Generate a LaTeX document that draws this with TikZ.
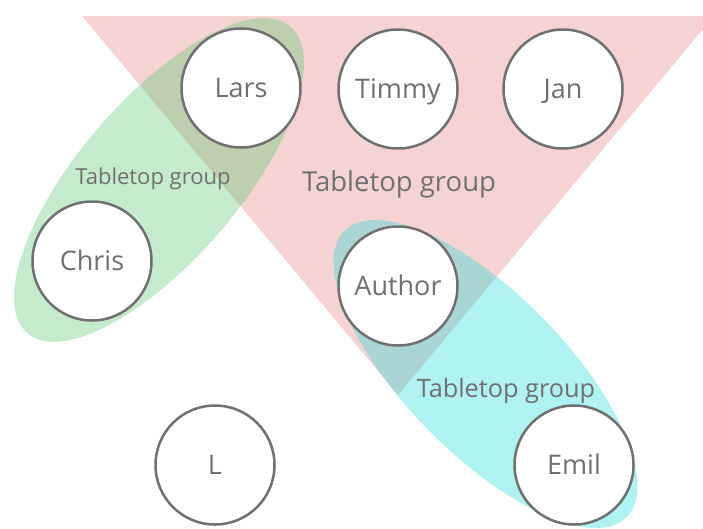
\documentclass[tikz,border=0pt]{standalone}
\usepackage{fontspec}
\setmainfont{Open Sans}
\definecolor{inkgray}{RGB}{112,112,112}
\definecolor{grpred}{RGB}{229,129,129}
\definecolor{grpgreen}{RGB}{86,201,109}
\definecolor{grpcyan}{RGB}{26,218,218}
\begin{document}
\begin{tikzpicture}[x=1pt,y=-1pt,
  person/.style={circle, draw=inkgray, fill=white, line width=2.5pt,
    minimum size=119pt, inner sep=0pt, text=inkgray,
    text height=19.3pt, text depth=0pt,
    font=\fontsize{27}{30}\selectfont},
  grouplabel/.style={text=inkgray, inner sep=0pt, text depth=0pt},
  groupfill/.style={fill opacity=0.35}]
\useasboundingbox (0,0) rectangle (703,528);
\clip (0,0) rectangle (703,528);

% group areas
\fill[grpred, groupfill] (82,16) -- (714,16) -- (398,395) -- cycle;
\fill[grpgreen, groupfill] (159,180) ellipse [x radius=202pt, y radius=80pt, rotate=49.3];
\fill[grpcyan, groupfill] (485.5,374) ellipse [x radius=201pt, y radius=80pt, rotate=-45.5];

% people
\node[person] (lars)   at (241,88)  {Lars};
\node[person] (timmy)  at (398,89)  {Timmy};
\node[person] (jan)    at (563,89)  {Jan};
\node[person] (chris)  at (92,261)  {Chris};
\node[person] (author) at (398,286) {Author};
\node[person] (emil)   at (574,465) {Emil};
\node[person] (l)      at (215,465) {L};

% group names
\node[grouplabel, text height=15.7pt, font=\fontsize{22}{25}\selectfont] (greenlabel) at (153,177) {Tabletop group};
\node[grouplabel, text height=19.6pt, font=\fontsize{27.5}{30}\selectfont] (redlabel) at (399,182) {Tabletop group};
\node[grouplabel, text height=18.1pt, font=\fontsize{25.3}{28}\selectfont] (cyanlabel) at (506,388) {Tabletop group};
\end{tikzpicture}
\end{document}
